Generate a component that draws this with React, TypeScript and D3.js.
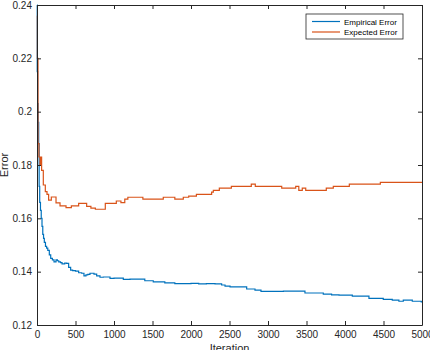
import React, { useRef, useEffect } from 'react';
import * as d3 from 'd3';

// Empirical error (blue): iteration -> error
const empiricalIter = [0, 3, 8, 15, 22, 28, 35, 45, 55, 65, 75, 85, 95, 110, 125, 140, 160, 178, 200, 221, 247, 265, 282, 305, 325, 360, 385, 411, 437, 463, 500, 541, 580, 610, 636, 660, 688, 740, 775, 818, 861, 948, 1000, 1121, 1208, 1400, 1510, 1660, 1790, 2000, 2100, 2200, 2312, 2398, 2442, 2507, 2723, 2831, 2909, 3200, 3480, 3718, 3826, 3922, 4095, 4311, 4497, 4614, 4700, 4757, 4874, 4990, 5000];
const empiricalErr = [0.24, 0.215, 0.203, 0.196, 0.188, 0.172, 0.166, 0.163, 0.16, 0.157, 0.154, 0.1525, 0.151, 0.1495, 0.1488, 0.148, 0.1463, 0.145, 0.1444, 0.1437, 0.1444, 0.1441, 0.1437, 0.1434, 0.1429, 0.1432, 0.1431, 0.1416, 0.1406, 0.1404, 0.1402, 0.1396, 0.1394, 0.1384, 0.1388, 0.139, 0.1394, 0.1391, 0.1384, 0.1379, 0.138, 0.1375, 0.1376, 0.1371, 0.1372, 0.1366, 0.1362, 0.1358, 0.1355, 0.1356, 0.1354, 0.1355, 0.1354, 0.135, 0.1346, 0.1343, 0.1335, 0.1331, 0.1326, 0.1327, 0.132, 0.1316, 0.1313, 0.1312, 0.1308, 0.13, 0.1296, 0.1293, 0.1289, 0.1293, 0.1289, 0.1287, 0.1287];

// Expected error (orange)
const expectedIter = [0, 5, 13, 25, 39, 50, 60, 82, 108, 130, 151, 186, 247, 299, 377, 446, 541, 645, 700, 758, 887, 1030, 1090, 1140, 1180, 1375, 1640, 1790, 1900, 1970, 2070, 2268, 2290, 2368, 2524, 2783, 2835, 3178, 3360, 3400, 3445, 3490, 3757, 3848, 4056, 4459, 5000];
const expectedErr = [0.236, 0.22, 0.188, 0.183, 0.18, 0.183, 0.178, 0.1725, 0.17, 0.169, 0.1668, 0.168, 0.1658, 0.1647, 0.164, 0.1647, 0.1656, 0.1645, 0.1638, 0.1634, 0.1656, 0.1665, 0.1659, 0.1672, 0.1679, 0.1672, 0.1679, 0.1672, 0.1679, 0.1683, 0.169, 0.1698, 0.1705, 0.1713, 0.172, 0.1728, 0.172, 0.1713, 0.172, 0.1705, 0.1713, 0.1705, 0.1713, 0.172, 0.1728, 0.1735, 0.1735];

const seriesNames = ['Empirical Error', 'Expected Error'];
const xTicks = [0, 500, 1000, 1500, 2000, 2500, 3000, 3500, 4000, 4500, 5000];
const yTicks = [0.12, 0.14, 0.16, 0.18, 0.2, 0.22, 0.24];

const App = () => {
  const svgRef = useRef<SVGSVGElement>(null);

  useEffect(() => {
    const margin = { top: 5, right: 8, bottom: 25, left: 37 };
    const width = 422 - margin.left;
    const height = 325 - margin.top;
    const axisColor = '#262626';
    const font = '"Liberation Sans", Arial, sans-serif';

    d3.select(svgRef.current).selectAll('*').remove();

    const svg = d3.select(svgRef.current)
      .attr('width', 430)
      .attr('height', 350)
      .style('position', 'absolute')
      .style('left', '0px')
      .style('top', '0px')
      .style('background', '#fff')
      .append('g')
      .attr('transform', `translate(${margin.left},${margin.top})`);

    const x = d3.scaleLinear().domain([0, 5000]).range([0, width]);
    const y = d3.scaleLinear().domain([0.12, 0.24]).range([height, 0]);

    // Lines (step plots)
    const colors = ['#0072BD', '#D95319'];
    const series = [
      empiricalIter.map((it, i) => [it, empiricalErr[i]]),
      expectedIter.map((it, i) => [it, expectedErr[i]]),
    ];
    const line = d3.line<number[]>()
      .x(d => x(d[0]))
      .y(d => y(d[1]))
      .curve(d3.curveStepAfter);

    series.forEach((s, i) => {
      svg.append('path')
        .datum(s)
        .attr('fill', 'none')
        .attr('stroke', colors[i])
        .attr('stroke-width', 1.2)
        .attr('d', line);
    });

    // Axes, MATLAB style box with inward ticks
    const styleAxis = (g: any) => {
      g.selectAll('path').attr('stroke', axisColor);
      g.selectAll('line').attr('stroke', axisColor);
      g.selectAll('text').attr('fill', axisColor).style('font-family', font).style('font-size', '10px');
    };

    svg.append('g')
      .attr('transform', `translate(0,${height})`)
      .call(d3.axisBottom(x).tickValues(xTicks).tickSize(-4).tickSizeOuter(0).tickPadding(6).tickFormat(d3.format('d')))
      .call(styleAxis);
    svg.append('g')
      .call(d3.axisTop(x).tickValues(xTicks).tickSize(-4).tickSizeOuter(0).tickFormat(() => ''))
      .call(styleAxis);
    svg.append('g')
      .call(d3.axisLeft(y).tickValues(yTicks).tickSize(-4).tickSizeOuter(0).tickPadding(5).tickFormat(d => String(+d)))
      .call(styleAxis);
    svg.append('g')
      .attr('transform', `translate(${width},0)`)
      .call(d3.axisRight(y).tickValues(yTicks).tickSize(-4).tickSizeOuter(0).tickFormat(() => ''))
      .call(styleAxis);

    // Axis labels
    svg.append('text')
      .attr('x', width / 2)
      .attr('y', height + 27)
      .attr('text-anchor', 'middle')
      .attr('fill', axisColor)
      .style('font-family', font)
      .style('font-size', '11px')
      .text('Iteration');

    svg.append('text')
      .attr('transform', `translate(${-29.5},${height / 2}) rotate(-90)`)
      .attr('text-anchor', 'middle')
      .attr('fill', axisColor)
      .style('font-family', font)
      .style('font-size', '11px')
      .text('Error');

    // Legend
    const legend = svg.append('g')
      .attr('transform', `translate(${306 - margin.left},${14 - margin.top})`);
    legend.append('rect')
      .attr('width', 97)
      .attr('height', 25)
      .attr('fill', '#fff')
      .attr('stroke', axisColor)
      .attr('stroke-width', 0.8);

    seriesNames.forEach((name, i) => {
      const row = legend.append('g').attr('transform', `translate(0,${7.5 + i * 10.5})`);
      row.append('line')
        .attr('x1', 6)
        .attr('x2', 34)
        .attr('stroke', colors[i])
        .attr('stroke-width', 1.2);
      row.append('text')
        .attr('x', 38)
        .attr('y', 3)
        .attr('fill', '#000')
        .style('font-family', font)
        .style('font-size', '8px')
        .text(name);
    });
  }, []);

  return (
    <svg ref={svgRef}></svg>
  );
};

export default App;
